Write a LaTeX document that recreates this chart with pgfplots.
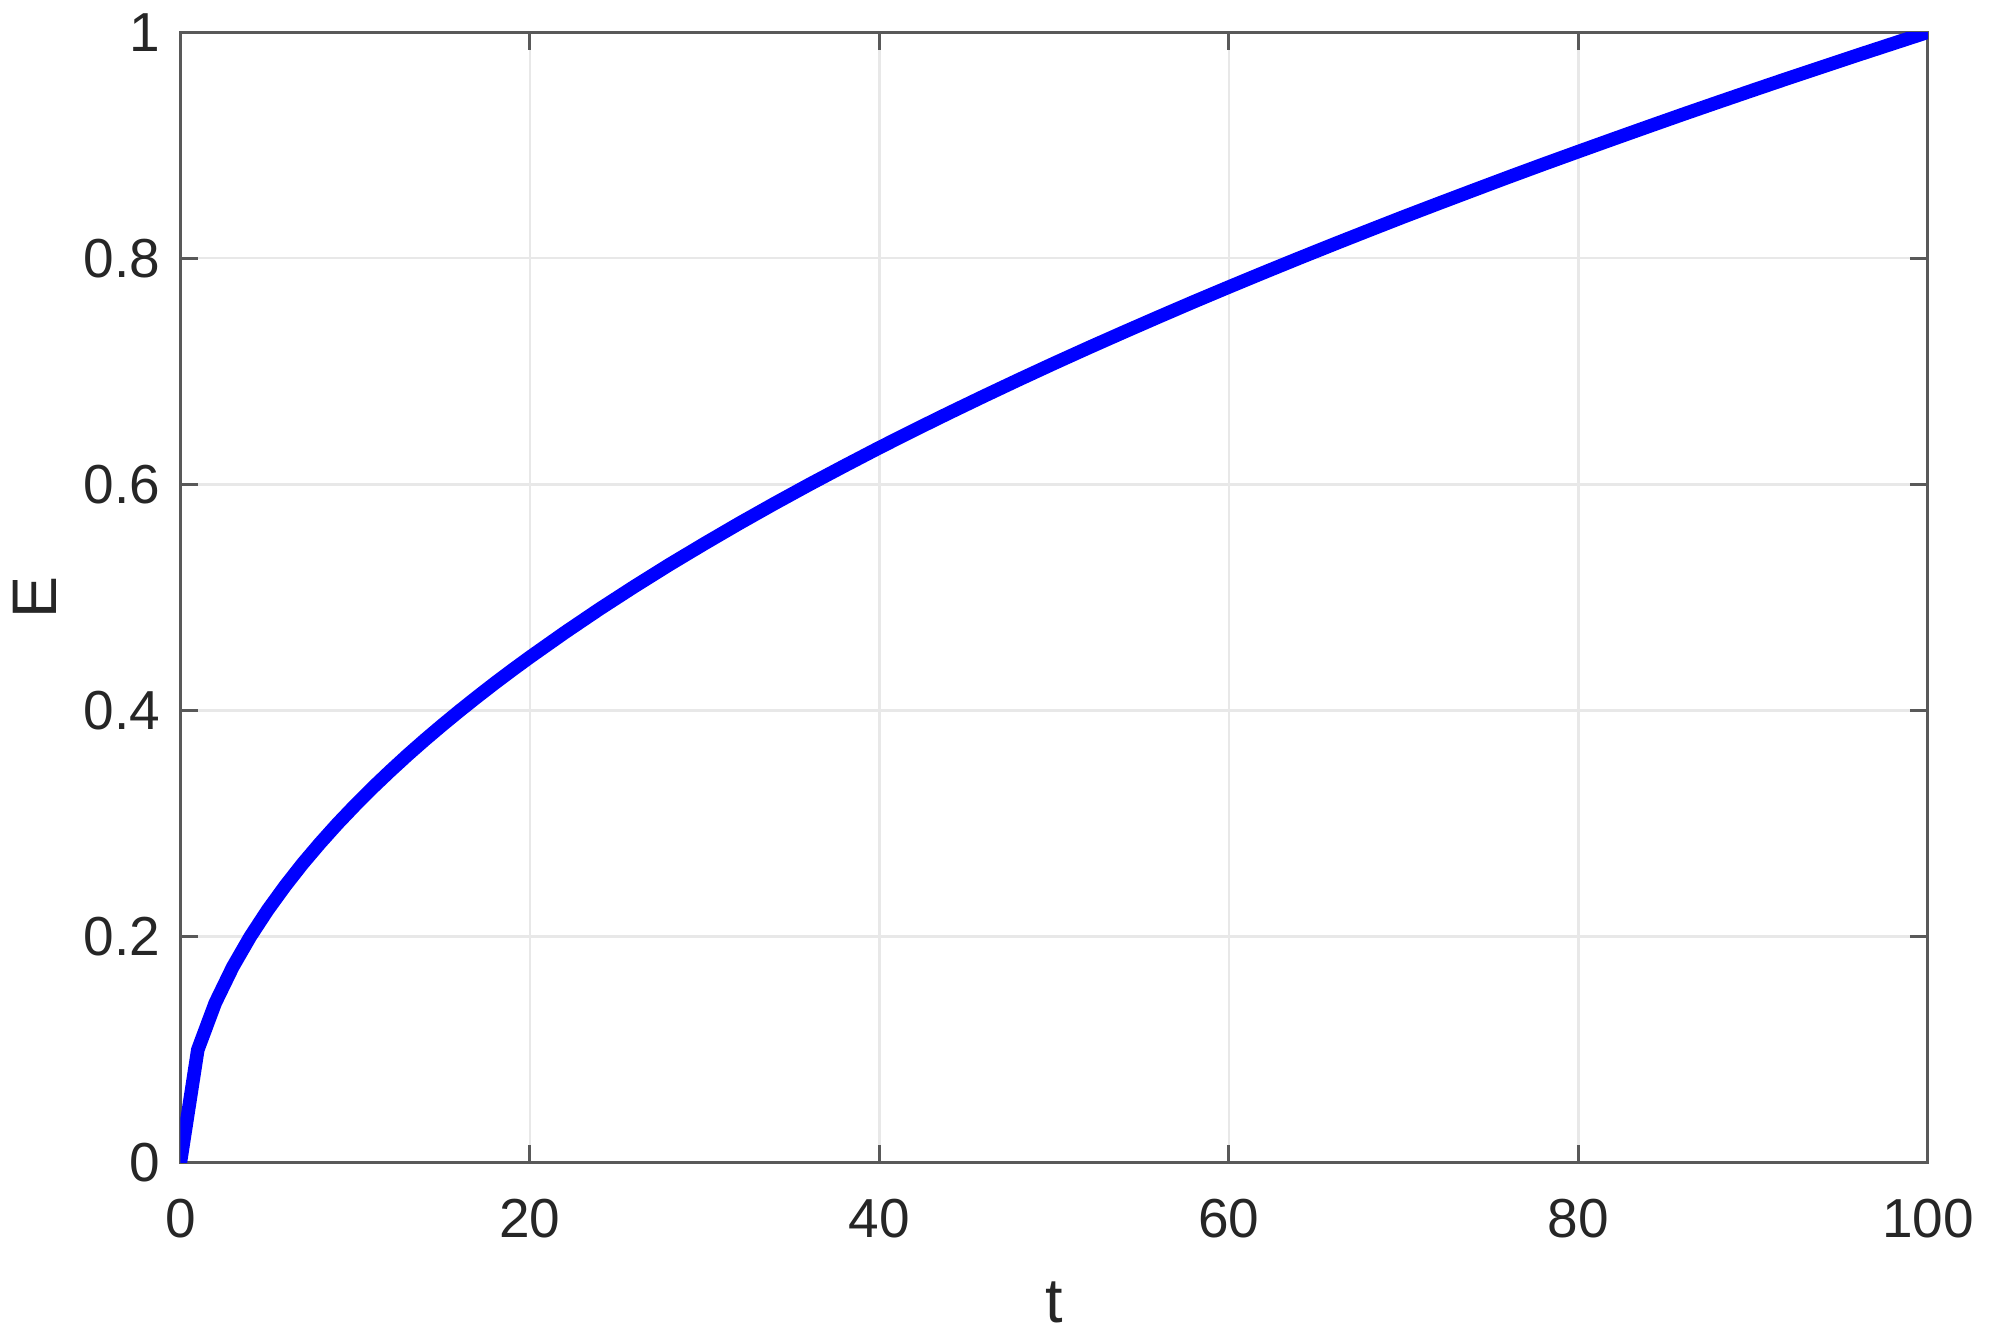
\documentclass[border=0pt]{standalone}
\usepackage{pgfplots}
\pgfplotsset{compat=1.18}
\usepackage{fontspec}
\setmainfont{Liberation Sans}
\definecolor{axgray}{gray}{0.15}
\begin{document}
\begin{tikzpicture}
\begin{axis}[name=ax,
  scale only axis, width=438.8pt, height=283.9pt,
  xmin=0, xmax=100, ymin=0, ymax=1,
  xtick={0,20,40,60,80,100},
  ytick={0,0.2,0.4,0.6,0.8,1},
  yticklabels={0,0.2,0.4,0.6,0.8,1},
  /pgf/number format/assume math mode=true,
  tick label style={font=\fontsize{13.8}{16}\selectfont, text=axgray},
  label style={font=\fontsize{15.8}{18}\selectfont, text=axgray},
  xlabel={t}, ylabel={E},
  xlabel style={at={(axis description cs:0.5,-0.1233)}, anchor=center},
  ylabel style={at={(axis description cs:-0.0832,0.5)}, anchor=center},
  grid=major,
  major grid style={line width=0.6pt, draw=black!9},
  axis line style={line width=0.8pt, draw=black!65},
  tick style={line width=0.8pt, draw=black!65},
  major tick length=4.5pt,
  tick align=inside,
  xtick pos=both, ytick pos=both,
  xticklabel style={yshift=-5.5pt},
  yticklabel style={xshift=-1.5pt},
]
\addplot[blue, line width=3.4pt, line join=round] coordinates {
(0,0) (1,0.1) (2,0.1414) (3,0.1732) (4,0.2) (5,0.2236) (6,0.2449) (7,0.2646)
(8,0.2828) (9,0.3) (10,0.3162) (11,0.3317) (12,0.3464) (13,0.3606) (14,0.3742)
(15,0.3873) (16,0.4) (17,0.4123) (18,0.4243) (19,0.4359) (20,0.4472)
(22,0.4690) (24,0.4899) (26,0.5099) (28,0.5292) (30,0.5477) (32,0.5657)
(34,0.5831) (36,0.6) (38,0.6164) (40,0.6325) (42,0.6481) (44,0.6633)
(46,0.6782) (48,0.6928) (50,0.7071) (52,0.7211) (54,0.7348) (56,0.7483)
(58,0.7616) (60,0.7746) (62,0.7874) (64,0.8) (66,0.8124) (68,0.8246)
(70,0.8367) (72,0.8485) (74,0.8602) (76,0.8718) (78,0.8832) (80,0.8944)
(82,0.9055) (84,0.9165) (86,0.9274) (88,0.9381) (90,0.9487) (92,0.9592)
(94,0.9695) (96,0.9798) (98,0.9899) (100,1)
};
\end{axis}
\path[use as bounding box] ([shift={(-45.2pt,-44.7pt)}]ax.south west) rectangle ([shift={(16.1pt,8pt)}]ax.north east);
\end{tikzpicture}
\end{document}
